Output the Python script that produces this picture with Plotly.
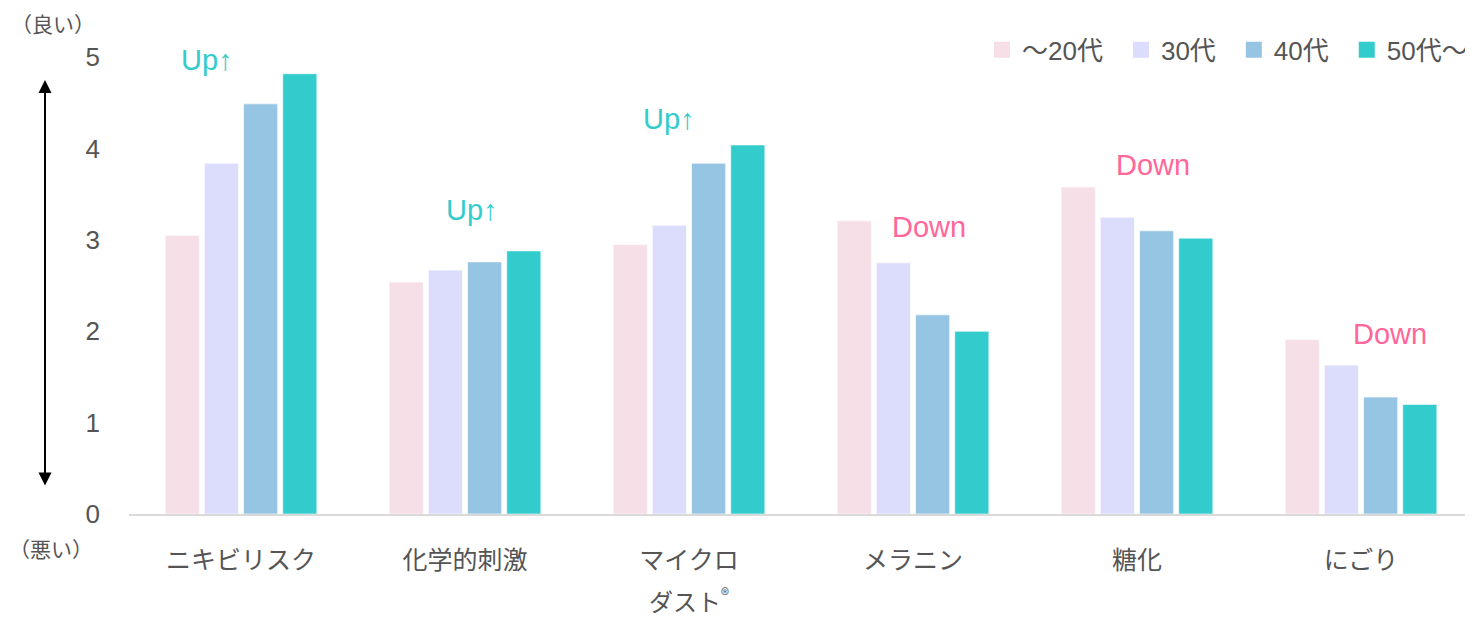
import plotly.graph_objects as go

categories = ["ニキビリスク", "化学的刺激", "マイクロ", "メラニン", "糖化", "にごり"]
label_second_line = "ダスト<sup>®</sup>"
series_names = ["～20代", "30代", "40代", "50代～"]
s20 = [3.05, 2.54, 2.95, 3.21, 3.58, 1.91]
s30 = [3.84, 2.67, 3.16, 2.75, 3.25, 1.63]
s40 = [4.49, 2.76, 3.84, 2.18, 3.10, 1.28]
s50 = [4.82, 2.88, 4.04, 2.00, 3.02, 1.20]
colors = ["#F7DFE8", "#DCDCFC", "#95C5E3", "#33CCCC"]
y_ticks = [0, 1, 2, 3, 4, 5]

notes = [
    (0, 4.97, "Up↑", "#33CCCC", -0.15),
    (1, 3.33, "Up↑", "#33CCCC", 0.03),
    (2, 4.32, "Up↑", "#33CCCC", -0.09),
    (3, 3.14, "Down", "#FF6699", 0.07),
    (4, 3.82, "Down", "#FF6699", 0.07),
    (5, 1.97, "Down", "#FF6699", 0.13),
]

TXT = "#555555"
fig = go.Figure()
for name, vals, c in zip(series_names, [s20, s30, s40, s50], colors):
    fig.add_trace(go.Bar(
        x=list(range(len(categories))), y=vals, name=name, showlegend=False,
        marker=dict(color=c, line=dict(color="rgba(255,255,255,0.6)", width=1)),
    ))
for k, (name, c) in enumerate(zip(series_names, colors)):
    pad = "\u2002" if k < len(series_names) - 1 else ""
    fig.add_trace(go.Scatter(
        x=[None], y=[None], mode="markers", name=name + pad,
        marker=dict(symbol="square", size=17, color=c),
    ))

for i, y, t, c, dx in notes:
    fig.add_annotation(x=i + dx, y=y, text=t, showarrow=False, xref="x", yref="y",
                       font=dict(size=29, color=c, family="Liberation Sans, Noto Sans CJK JP"))

# second line of the 3rd category label
fig.add_annotation(x=2, y=-0.182, xref="x", yref="paper", yanchor="middle",
                   text=label_second_line, showarrow=False,
                   font=dict(size=24, color=TXT))

# double-headed arrow at the left
fig.add_annotation(x=-0.0625, y=4.75, xref="paper", yref="y", text="",
                   showarrow=True, ax=0, ay=407, axref="pixel", ayref="pixel",
                   arrowside="end+start", arrowhead=2, arrowsize=1.3, arrowwidth=2,
                   arrowcolor="#000000")
fig.add_annotation(x=-0.0885, y=1.033, xref="paper", yref="paper", yanchor="middle",
                   text="（良い）", showarrow=False, xanchor="left", borderpad=0,
                   font=dict(size=21, color=TXT))
fig.add_annotation(x=-0.09, y=-0.072, xref="paper", yref="paper", yanchor="middle",
                   text="（悪い）", showarrow=False, xanchor="left", borderpad=0,
                   font=dict(size=21, color=TXT))

fig.update_layout(
    width=1465, height=609,
    margin=dict(l=121, r=0, t=31, b=103),
    paper_bgcolor="white", plot_bgcolor="white",
    barmode="group", bargap=0.30, bargroupgap=0.13,
    font=dict(family="Noto Sans CJK JP, Liberation Sans", color=TXT),
    showlegend=True,
    legend=dict(orientation="h", x=1.0, xanchor="right", y=0.977, yanchor="middle",
                font=dict(size=26, color=TXT, family="Liberation Sans, Noto Sans CJK JP"),
                itemwidth=30, traceorder="normal"),
    xaxis=dict(tickvals=list(range(len(categories))), ticktext=categories,
               range=[-0.5, len(categories) - 0.5],
               showline=True, linecolor="#d9d9d9", linewidth=2, ticks="",
               tickfont=dict(size=25, color=TXT), ticklabelstandoff=23,
               showgrid=False, zeroline=False),
    yaxis=dict(range=[0, 5.2], tickvals=y_ticks, showgrid=False, zeroline=False,
               showline=False, ticks="",
               tickfont=dict(size=26, color=TXT, family="Liberation Sans"),
               ticklabelstandoff=28),
)

fig.write_html("out.html")
